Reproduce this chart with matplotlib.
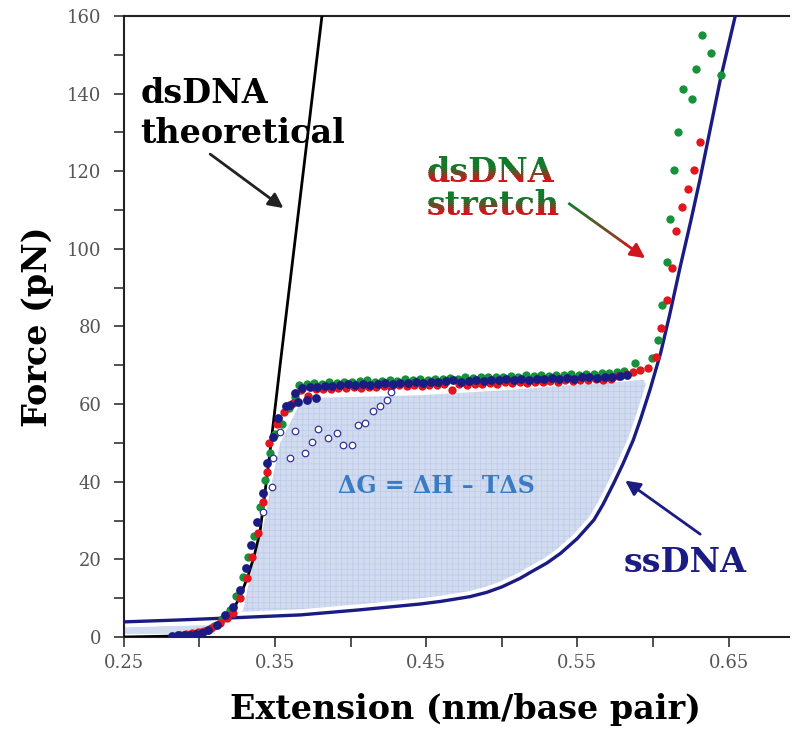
import numpy as np
import matplotlib
matplotlib.use("Agg")
import matplotlib.pyplot as plt
from matplotlib.transforms import Bbox
from matplotlib.colors import to_rgb

# ---- theoretical dsDNA curve (extension nm/bp, force pN)
theo_x = [0.25, 0.29, 0.305, 0.314, 0.321, 0.327, 0.332, 0.336, 0.3401, 0.3456, 0.3534, 0.3811]
theo_f = [0.0, 0.3, 1.2, 3.0, 6.0, 10.5, 15.5, 20.5, 27.0, 44.0, 70.0, 160.0]

# ---- ssDNA curve
ss_x = [0.25, 0.287, 0.325, 0.367, 0.406, 0.446, 0.46, 0.479, 0.49, 0.50,
        0.512, 0.52, 0.53, 0.539, 0.55, 0.561, 0.567, 0.574, 0.58, 0.587,
        0.592, 0.598, 0.605, 0.611, 0.618, 0.625, 0.631, 0.6445, 0.655]
ss_f = [3.9, 4.4, 5.0, 5.7, 7.0, 8.5, 9.2, 10.4, 11.5, 12.9,
        15.1, 16.9, 19.1, 21.6, 25.4, 30.2, 34.2, 39.6, 44.5, 50.8,
        56.4, 63.7, 73.1, 83.0, 95.4, 107.2, 117.8, 143.6, 161.0]

# ---- upper/left edge of the shaded work area
area_x = [0.329, 0.335, 0.3423, 0.348, 0.3534, 0.3644, 0.3686, 0.40, 0.446, 0.50, 0.55, 0.5937]
area_f = [7.0, 18.0, 28.4, 40.0, 49.9, 58.5, 61.5, 61.8, 62.3, 63.5, 65.0, 66.2]

# ---- stretch data, blue run
blue_x = [0.282, 0.286, 0.290, 0.294, 0.298, 0.302, 0.306, 0.3115, 0.317, 0.3221,
          0.3269, 0.3307, 0.3342, 0.338, 0.3419, 0.345, 0.3485, 0.3522, 0.3573, 0.3634,
          0.360, 0.365, 0.371, 0.377,
          0.368, 0.373, 0.378, 0.383, 0.388, 0.393, 0.398, 0.403, 0.408, 0.413,
          0.418, 0.423, 0.428, 0.433, 0.438, 0.443, 0.448, 0.453, 0.458, 0.463,
          0.468, 0.473, 0.478, 0.483, 0.488, 0.493, 0.498, 0.503, 0.508, 0.513,
          0.518, 0.523, 0.528, 0.533, 0.538, 0.543, 0.548, 0.553, 0.558, 0.563,
          0.568, 0.573, 0.578, 0.583]
blue_f = [0.3, 0.4, 0.5, 0.6, 0.8, 1.1, 1.8, 3.1, 5.7, 7.8,
          12.1, 17.7, 23.7, 29.7, 37.0, 44.8, 51.6, 56.4, 59.4, 62.8,
          59.8, 60.6, 61.0, 61.6,
          64.1, 64.4, 64.3, 64.7, 64.6, 64.9, 65.1, 64.8, 65.2, 65.0,
          65.3, 65.4, 65.1, 65.5, 65.4, 65.7, 65.5, 65.8, 65.6, 65.9,
          66.1, 65.8, 66.0, 66.2, 66.0, 66.3, 66.1, 66.4, 66.3, 66.5,
          66.2, 66.6, 66.4, 66.7, 66.6, 66.8, 66.6, 66.9, 67.0, 66.8,
          67.1, 67.0, 67.2, 67.4]

# ---- stretch data, red run
red_x = [0.287, 0.291, 0.295, 0.299, 0.303, 0.308, 0.3137, 0.3181, 0.3225, 0.3269,
         0.3313, 0.3347, 0.339, 0.3419, 0.345, 0.3463, 0.3512, 0.356, 0.362,
         0.367, 0.372, 0.377, 0.382, 0.387, 0.392, 0.397, 0.402, 0.407, 0.412,
         0.417, 0.422, 0.427, 0.432, 0.437, 0.442, 0.447, 0.452, 0.457, 0.462,
         0.467, 0.472, 0.477, 0.482, 0.487, 0.492, 0.497, 0.502, 0.507, 0.512,
         0.517, 0.522, 0.527, 0.532, 0.537, 0.542, 0.547, 0.552, 0.557, 0.562,
         0.567, 0.572, 0.577, 0.582, 0.5865, 0.5915, 0.597, 0.602, 0.6053, 0.6091,
         0.6124, 0.6153, 0.619, 0.623, 0.6274, 0.6312]
red_f = [0.6, 0.8, 1.0, 1.2, 1.5, 2.2, 3.5, 4.8, 6.1, 10.0,
         15.1, 20.7, 26.7, 34.9, 42.6, 49.9, 55.0, 58.0, 60.2,
         63.6, 62.2, 63.8, 64.0, 63.8, 64.2, 64.1, 64.4, 64.2, 64.5,
         64.3, 64.6, 64.5, 64.8, 64.6, 64.9, 64.7, 65.0, 64.8, 65.1,
         63.6, 65.2, 65.0, 65.3, 65.2, 65.5, 65.3, 65.6, 65.4, 65.7,
         65.5, 65.8, 65.7, 66.0, 65.8, 66.1, 65.9, 66.2, 66.1, 66.4,
         66.2, 66.6, 67.2, 67.8, 68.4, 68.8, 69.3, 72.2, 79.7, 86.7,
         95.0, 104.7, 110.7, 115.4, 120.4, 127.4]

# ---- stretch data, green run
green_x = [0.296, 0.301, 0.306, 0.310, 0.315, 0.320, 0.3245, 0.329, 0.3325, 0.336,
           0.340, 0.3435, 0.347, 0.350, 0.3545, 0.3595, 0.3634,
           0.366, 0.371, 0.376, 0.381, 0.386, 0.391, 0.396, 0.401, 0.406, 0.411,
           0.416, 0.421, 0.426, 0.431, 0.436, 0.441, 0.446, 0.451, 0.456, 0.461,
           0.466, 0.471, 0.476, 0.481, 0.486, 0.491, 0.496, 0.501, 0.506, 0.511,
           0.516, 0.521, 0.526, 0.531, 0.536, 0.541, 0.546, 0.551, 0.556, 0.561,
           0.566, 0.571, 0.576, 0.581, 0.5882, 0.5992, 0.6036, 0.6058, 0.6091, 0.6113,
           0.6142, 0.6168, 0.6197, 0.6256, 0.6285, 0.6323, 0.6384, 0.6448]
green_f = [0.8, 1.2, 1.9, 2.8, 4.6, 6.9, 10.6, 15.5, 20.5, 26.0,
           33.5, 40.5, 47.5, 52.2, 55.0, 59.0, 61.9,
           65.0, 65.2, 65.4, 65.3, 65.6, 65.5, 65.8, 65.6, 65.9, 66.1,
           65.8, 66.0, 66.2, 66.0, 66.4, 66.2, 66.5, 66.3, 66.6, 66.5,
           66.8, 66.6, 66.9, 66.7, 67.0, 66.9, 67.1, 67.0, 67.2, 67.1,
           67.4, 67.2, 67.5, 67.3, 67.6, 67.4, 67.7, 67.6, 67.8, 67.7,
           68.0, 67.9, 68.2, 68.6, 70.5, 71.8, 76.4, 85.6, 96.5, 107.7,
           120.4, 130.0, 141.2, 138.7, 146.3, 155.0, 150.4, 144.8]

# ---- relaxation run (open circles)
relax_x = [0.427, 0.424, 0.4195, 0.415, 0.4096, 0.4052, 0.4008, 0.3953, 0.3909, 0.3853,
           0.3787, 0.3743, 0.3699, 0.360, 0.3633, 0.3534, 0.349, 0.3479, 0.3423]
relax_f = [63.1, 61.1, 59.4, 58.1, 55.1, 54.6, 49.5, 49.5, 52.5, 51.2,
           53.5, 50.3, 47.3, 46.0, 53.2, 52.9, 46.0, 38.7, 32.3]

x_ticks = [0.25, 0.30, 0.35, 0.40, 0.45, 0.50, 0.55, 0.60, 0.65]
x_tick_labels = ["0.25", "", "0.35", "", "0.45", "", "0.55", "", "0.65"]
y_ticks = [0, 20, 40, 60, 80, 100, 120, 140, 160]

NAVY = "#1b1b84"
GREEN = "#16933a"
RED = "#e5151d"
FILL = "#d2dcf0"

plt.rcParams["font.family"] = ["DejaVu Serif"]
plt.rcParams["hatch.linewidth"] = 0.6

fig = plt.figure(figsize=(7.95, 7.35), dpi=100)
ax = fig.add_axes([0.1556, 0.1333, 0.837, 0.845])

# shaded area between the stretch plateau and the ssDNA curve
ss_x_arr = np.array(ss_x)
ss_f_arr = np.array(ss_f)
keep = (ss_x_arr > 0.32) & (ss_x_arr < 0.6)
poly_x = list(area_x) + list(ss_x_arr[keep][::-1])
poly_f = list(area_f) + list(ss_f_arr[keep][::-1])
ax.fill(poly_x, poly_f, facecolor=FILL, edgecolor="#c0cde8", hatch="+++",
        lw=0, zorder=1)
ax.fill_between([0.25, 0.31], [0.8, 0.8], [2.6, 3.1], facecolor=FILL, lw=0, zorder=1)

# ssDNA line with a white halo
ax.plot(ss_x, ss_f, color="white", lw=8, solid_capstyle="butt", zorder=2)
ax.plot(ss_x, ss_f, color=NAVY, lw=2.4, zorder=3)

ax.plot(theo_x, theo_f, color="black", lw=2.0, zorder=3.5)

ax.scatter(green_x, green_f, s=36, color=GREEN, lw=0, zorder=4)
ax.scatter(red_x, red_f, s=36, color=RED, lw=0, zorder=5)
ax.scatter(blue_x, blue_f, s=40, color=NAVY, lw=0, zorder=6)
ax.scatter(relax_x, relax_f, s=22, facecolors="white", edgecolors="#34349a",
           lw=0.9, zorder=6)

ax.set_xlim(0.25, 0.69)
ax.set_ylim(0, 160)
ax.set_xticks(x_ticks)
ax.set_xticklabels(x_tick_labels)
ax.set_yticks(y_ticks)
ax.set_yticks(range(10, 160, 20), minor=True)
ax.tick_params(axis="both", which="both", direction="out", length=7, width=1.2,
               color="#333333", labelcolor="#555555", labelsize=13)
ax.tick_params(axis="x", pad=5)
ax.tick_params(axis="y", pad=9)
ax.spines["right"].set_visible(False)
for side in ("left", "bottom", "top"):
    ax.spines[side].set_linewidth(1.5)
    ax.spines[side].set_color("#222222")

ax.set_xlabel("Extension (nm/base pair)", fontsize=24, fontweight="bold")
ax.set_ylabel("Force (pN)", fontsize=24, fontweight="bold")
ax.xaxis.set_label_coords(0.513, -0.09)
ax.yaxis.set_label_coords(-0.105, 0.5)

label_kw = dict(fontsize=24, fontweight="bold", ha="left", va="baseline", zorder=10)
ax.text(0.2612, 137.6, "dsDNA", color="black", **label_kw)
ax.text(0.2612, 127.2, "theoretical", color="black", **label_kw)
ax.text(0.5804, 16.8, "ssDNA", color=NAVY, **label_kw)
ax.text(0.4566, 37.0, "ΔG = ΔH – TΔS", color="#3a7cc4", fontsize=17,
        fontweight="bold", ha="center", va="baseline", zorder=10)

arrow_kw = dict(arrowstyle="-|>", lw=2.0, mutation_scale=22, shrinkA=0, shrinkB=0)
ax.annotate("", xy=(0.3556, 110.5), xytext=(0.3072, 124.4),
            arrowprops=dict(color="#222222", **arrow_kw), zorder=10)
ax.annotate("", xy=(0.5816, 40.3), xytext=(0.6312, 26.5),
            arrowprops=dict(color=NAVY, **arrow_kw), zorder=10)

# green-to-red arrow for the stretch label
g_rgb = np.array(to_rgb("#137a2c"))
r_rgb = np.array(to_rgb("#d0161c"))
tail = np.array([0.544, 111.8])
tip = np.array([0.5948, 97.6])
n_seg = 10
for i in range(n_seg):
    a = tail + (tip - tail) * 0.75 * i / n_seg
    b = tail + (tip - tail) * 0.75 * (i + 1.05) / n_seg
    c = g_rgb + (r_rgb - g_rgb) * (i / n_seg) * 0.8
    ax.plot([a[0], b[0]], [a[1], b[1]], color=c, lw=2.0, solid_capstyle="butt", zorder=10)
ax.annotate("", xy=tuple(tip), xytext=tuple(tail + (tip - tail) * 0.74),
            arrowprops=dict(color=r_rgb, **arrow_kw), zorder=10)

# two-tone label: each line fades from green (top) to red (bottom)
fig.canvas.draw()
renderer = fig.canvas.get_renderer()
n_band = 16
for s, yb in (("dsDNA", 117.3), ("stretch", 108.8)):
    probe = ax.text(0.4504, yb, s, color="none", **label_kw)
    bb = probe.get_window_extent(renderer)
    probe.remove()
    h = bb.height / n_band
    for i in range(n_band):
        frac = np.clip((i / (n_band - 1) - 0.3) / 0.4, 0, 1)
        c = r_rgb + (g_rgb - r_rgb) * frac
        t = ax.text(0.4504, yb, s, color=c, clip_on=True, **label_kw)
        t.set_clip_box(Bbox.from_extents(bb.x0 - 3, bb.y0 + i * h - 0.5,
                                         bb.x1 + 3, bb.y0 + (i + 1) * h + 0.5))

fig.savefig("out.png", dpi=100)
